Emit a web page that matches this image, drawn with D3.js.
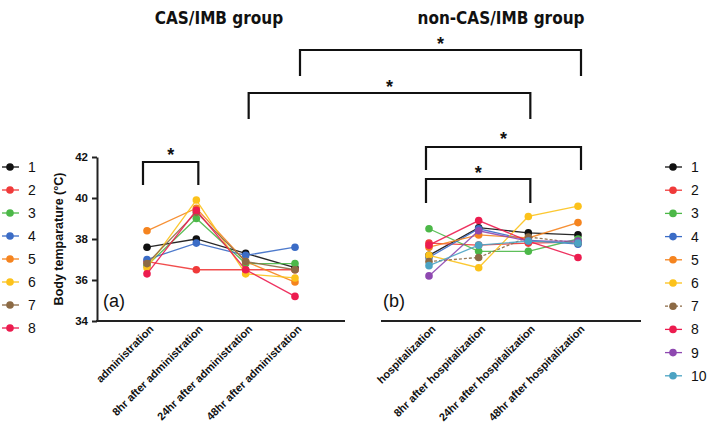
<!DOCTYPE html>
<html><head><meta charset="utf-8">
<script src="https://cdn.jsdelivr.net/npm/d3@7"></script>
<style>body{margin:0;background:#fff}svg{display:block}text{font-family:Arial,"Liberation Sans",sans-serif}</style>
</head><body>
<svg id="c" width="709" height="442"></svg>
<script>
const leftCats = ["administration","8hr after administration","24hr after administration","48hr after administration"];
const rightCats = ["hospitalization","8hr after hospitalization","24hr after hospitalization","48hr after hospitalization"];
const leftIds = ["1","2","3","4","5","6","7","8"];
const rightIds = ["1","2","3","4","5","6","7","8","9","10"];
const colors = ["#111111","#f03a3a","#4cb848","#3b6cc6","#f5841f","#fcc21b","#8c6a45","#ec1c4f","#8e48b0","#4ba3c3"];
const leftValues = [
  [37.6,38.0,37.3,36.6],
  [36.9,36.5,36.5,36.5],
  [36.7,39.0,36.8,36.8],
  [37.0,37.8,37.2,37.6],
  [38.4,39.5,36.9,35.9],
  [36.6,39.9,36.3,36.1],
  [36.8,39.3,36.9,36.5],
  [36.3,39.4,36.5,35.2]
];
const rightValues = [
  [37.2,38.55,38.3,38.2],
  [37.8,37.7,37.8,37.85],
  [38.5,37.4,37.4,38.0],
  [37.1,38.5,37.95,37.75],
  [37.6,38.2,38.05,38.8],
  [37.2,36.6,39.1,39.6],
  [36.9,37.1,38.1,37.8],
  [37.7,38.9,37.9,37.1],
  [36.2,38.4,37.9,37.9],
  [36.7,37.7,37.9,37.8]
];
const yTicks = [34,36,38,40,42];
const titles = ["CAS/IMB group","non-CAS/IMB group"];
const panelLabels = ["(a)","(b)"];

const svg = d3.select("#c");
const y = d3.scaleLinear().domain([34,42]).range([321,157]);
const xL = d3.scalePoint().domain(leftCats).range([147,295]);
const xR = d3.scalePoint().domain(rightCats).range([429,578]);

// y axis
const yAx = svg.append("g").attr("transform","translate(97,0)")
  .call(d3.axisLeft(y).tickValues(yTicks).tickSize(5).tickSizeOuter(0));
yAx.select(".domain").attr("stroke","#222").attr("stroke-width",2);
yAx.selectAll(".tick line").attr("stroke","#222").attr("stroke-width",2);
yAx.selectAll("text").attr("font-size",11.5).attr("font-weight","bold").attr("fill","#111").attr("dx",-1);

svg.append("text").attr("transform","translate(63,239) rotate(-90)")
  .attr("text-anchor","middle").attr("font-size",12.5).attr("font-weight","bold").attr("fill","#111")
  .text("Body temparature (°C)");

// x axes
function xAxis(scale, x0, x1){
  const g = svg.append("g").attr("transform","translate(0,321)")
    .call(d3.axisBottom(scale).tickSize(0));
  g.select(".domain").remove();
  g.append("line").attr("x1",x0).attr("x2",x1).attr("stroke","#222").attr("stroke-width",2);
  g.selectAll(".tick text").attr("font-size",11).attr("font-weight","bold").attr("fill","#111")
    .attr("text-anchor","end").attr("transform","translate(4,6) rotate(-45)").attr("dy","0.35em").attr("y",0);
}
xAxis(xL,96,345);
xAxis(xR,381,641);

// lines
const line = (xs)=>d3.line().x((d,i)=>xs(xs.domain()[i])).y(d=>y(d));
function drawSeries(vals, xs, dashedIdx){
  vals.forEach((s,i)=>{
    const g = svg.append("g");
    g.append("path").attr("d",line(xs)(s)).attr("fill","none").attr("stroke",colors[i])
      .attr("stroke-width",1.3).attr("stroke-dasharray", i===dashedIdx?"3,2":null).attr("opacity",0.9);
    g.selectAll("circle").data(s).join("circle").attr("cx",(d,j)=>xs(xs.domain()[j])).attr("cy",d=>y(d))
      .attr("r",3.8).attr("fill",colors[i]);
  });
}
drawSeries(leftValues,xL,-1);
drawSeries(rightValues,xR,6);

// panel labels
svg.append("text").attr("x",103).attr("y",307).attr("font-size",18).attr("fill","#111").text(panelLabels[0]);
svg.append("text").attr("x",383).attr("y",307).attr("font-size",18).attr("fill","#111").text(panelLabels[1]);

// titles
svg.append("text").attr("x",219).attr("y",24).attr("text-anchor","middle").attr("font-size",17).attr("font-weight","bold")
  .attr("fill","#111").style("font-family","'Liberation Sans Narrow','DejaVu Sans Condensed',sans-serif").text(titles[0]);
svg.append("text").attr("x",501).attr("y",24).attr("text-anchor","middle").attr("font-size",17).attr("font-weight","bold")
  .attr("fill","#111").style("font-family","'Liberation Sans Narrow','DejaVu Sans Condensed',sans-serif").text(titles[1]);

// brackets
function bracket(x1,x2,yTop,yBot,starY){
  svg.append("path").attr("d",`M${x1},${yBot}V${yTop}H${x2}V${yBot}`).attr("fill","none")
    .attr("stroke","#111").attr("stroke-width",2.2);
  svg.append("text").attr("x",(x1+x2)/2).attr("y",starY+9).attr("text-anchor","middle")
    .attr("font-size",18).attr("font-weight","bold").attr("fill","#111").text("*");
}
bracket(xL(leftCats[0])-4, xL(leftCats[1])+2, 162, 185, 152);
bracket(xR(rightCats[0])-3, xR(rightCats[2])+2, 179, 203, 170);
bracket(xR(rightCats[0])-3, xR(rightCats[3])+3, 147, 170, 136);
bracket(xL(leftCats[2])+3, xR(rightCats[2])+2, 93, 119, 84);
bracket(xL(leftCats[3])+5, xR(rightCats[3])+3, 50, 76, 41);

// legends
function legend(ids, x, y0, step){
  ids.forEach((id,i)=>{
    const yy = y0 + i*step;
    svg.append("line").attr("x1",x-8).attr("x2",x+9).attr("y1",yy).attr("y2",yy).attr("stroke",colors[i]).attr("stroke-width",1.3)
      .attr("stroke-dasharray", (ids.length===10 && i===6)?"3,2":null);
    svg.append("circle").attr("cx",x).attr("cy",yy).attr("r",3.8).attr("fill",colors[i]);
    svg.append("text").attr("x",x+18).attr("y",yy).attr("dy","0.36em").attr("font-size",14).attr("fill","#111").text(id);
  });
}
legend(leftIds,10,167,23);
legend(rightIds,673,167,23.2);
</script>
</body></html>
